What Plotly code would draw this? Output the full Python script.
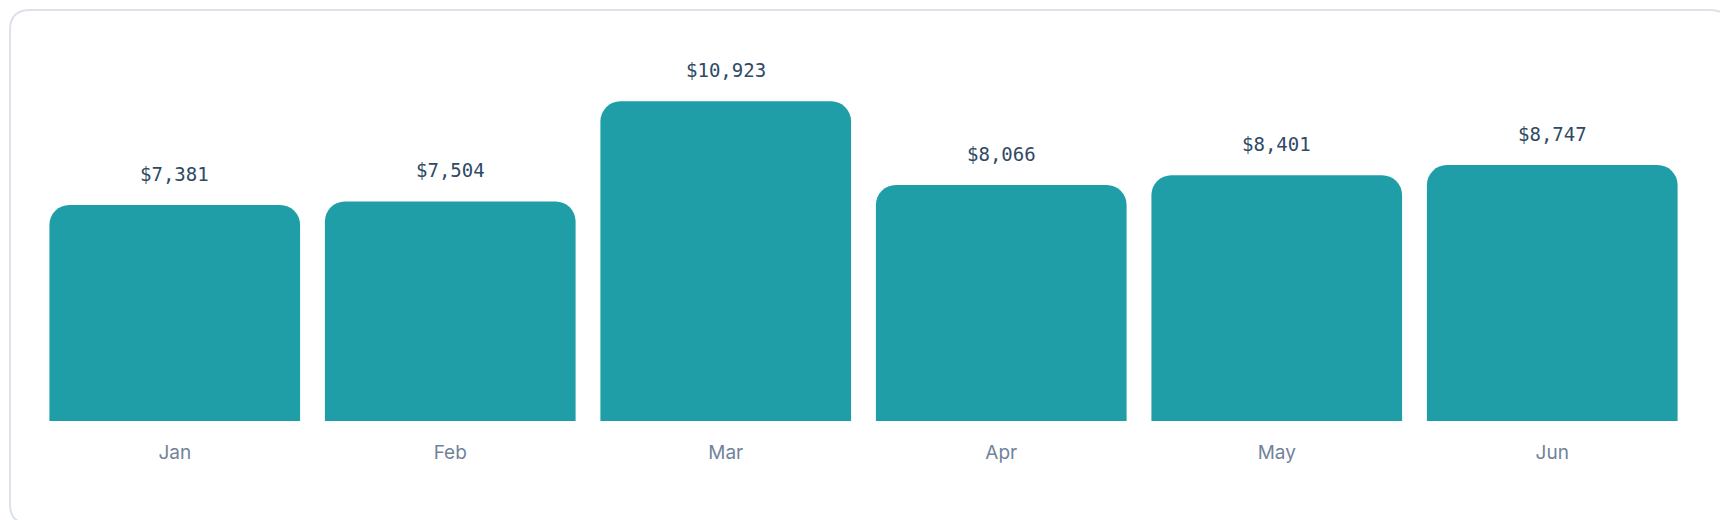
import plotly.graph_objects as go

months = ["Jan", "Feb", "Mar", "Apr", "May", "Jun"]
revenue = [7381, 7504, 10923, 8066, 8401, 8747]
labels = ["$7,381", "$7,504", "$10,923", "$8,066", "$8,401", "$8,747"]

W, H = 1728, 520
L, R, T, B = 29, 46, 15, 107
pw, ph = W - L - R, H - T - B

fig = go.Figure(go.Bar(
    x=months, y=revenue,
    marker=dict(color="#1f9ea8", line=dict(width=0)),
    hoverinfo="skip",
))

for m, v, t in zip(months, revenue, labels):
    fig.add_annotation(x=m, y=v, text=t, showarrow=False, yanchor="bottom", yshift=18,
                       font=dict(family="DejaVu Sans Mono", size=19, color="#2f4a66"))

def px(x): return (x - L) / pw
def py(y): return 1 - (y - T) / ph
x0, x1, y0, y1, r = 2, W - 6, 2, H - 4, 20
path = (f"M {px(x0+r)},{py(y0)} L {px(x1-r)},{py(y0)} Q {px(x1)},{py(y0)} {px(x1)},{py(y0+r)} "
        f"L {px(x1)},{py(y1-r)} Q {px(x1)},{py(y1)} {px(x1-r)},{py(y1)} "
        f"L {px(x0+r)},{py(y1)} Q {px(x0)},{py(y1)} {px(x0)},{py(y1-r)} "
        f"L {px(x0)},{py(y0+r)} Q {px(x0)},{py(y0)} {px(x0+r)},{py(y0)} Z")

fig.update_layout(
    width=W, height=H, margin=dict(l=L, r=R, t=T, b=B),
    paper_bgcolor="white", plot_bgcolor="white",
    bargap=0.09, barcornerradius=20, showlegend=False,
    xaxis=dict(showgrid=False, showline=False, ticks="", ticklabelstandoff=18,
               tickfont=dict(family="Inter", size=19, color="#71839a")),
    yaxis=dict(visible=False, range=[0, 13600]),
    shapes=[dict(type="path", path=path, xref="paper", yref="paper",
                 line=dict(color="#dde2ea", width=2), layer="below")],
)
fig.write_html("out.html")
